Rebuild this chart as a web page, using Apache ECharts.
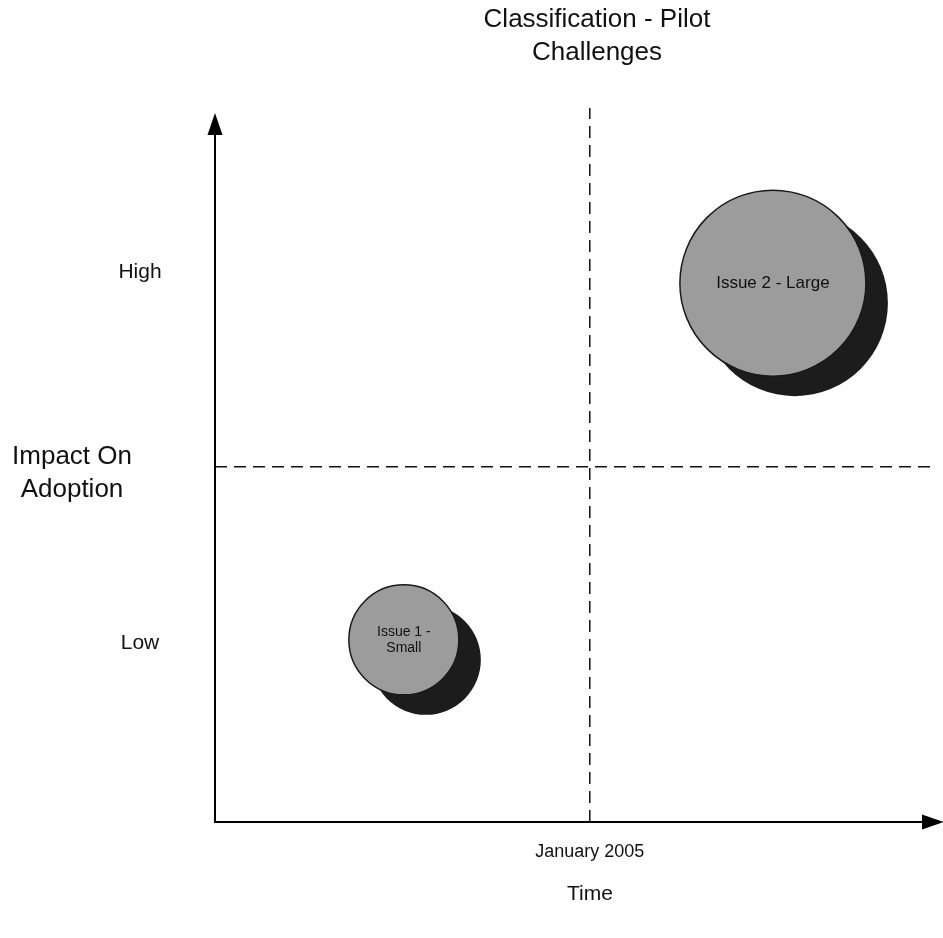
<!DOCTYPE html>
<html lang="en">
    <head>
        <meta charset="UTF-8" />
        <title>Classification - Pilot Challenges</title>
        <script src="https://cdn.jsdelivr.net/npm/echarts@6/dist/echarts.min.js"></script>
        <style>
            * {
                margin: 0;
                padding: 0;
            }
            #chart {
                width: 943px;
                height: 938px;
                background: #fff;
            }
        </style>
    </head>
    <body>
        <div id="chart"></div>
        <script type="text/javascript">
            // bubbles: [time position, impact position, bubble diameter]
            const issueNames = ['Issue 1 -\nSmall', 'Issue 2 - Large'];
            const issueX = [26.3, 77.7];
            const issueY = [26.1, 77.2];
            const issueSize = [110, 186];

            // tick labels
            const xTickValues = [52.2];
            const xTickLabels = ['January 2005'];
            const yTickValues = [25.6, 78.8];
            const yTickLabels = ['Low', 'High'];

            // quadrant dividers (they run a little past the axis ends)
            const xDividerLine = [[52.2, 0], [52.2, 102.3]];
            const yDividerLine = [[0, 50.9], [101.4, 50.9]];

            const font = 'Liberation Sans, Arial, sans-serif';

            const myChart = echarts.init(document.getElementById('chart'));

            const bubbleData = issueNames.map(function (name, i) {
                return {
                    name: name,
                    value: [issueX[i], issueY[i], issueSize[i]],
                    label: { fontSize: i === 0 ? 14 : 17 },
                };
            });

            const dashed = {
                color: '#111',
                width: 1.5,
                type: [12, 7],
            };

            const option = {
                animation: false,
                textStyle: { fontFamily: font },
                title: {
                    text: 'Classification - Pilot\nChallenges',
                    left: 592,
                    top: -2,
                    textAlign: 'center',
                    textStyle: {
                        fontFamily: font,
                        fontSize: 26,
                        fontWeight: 'normal',
                        color: '#111',
                        lineHeight: 33,
                    },
                },
                grid: {
                    left: 215,
                    right: 10,
                    top: 124,
                    bottom: 116,
                    containLabel: false,
                    outerBoundsMode: 'none',
                },
                xAxis: {
                    type: 'value',
                    min: 0,
                    max: 100,
                    name: 'Time',
                    nameLocation: 'middle',
                    nameGap: 62,
                    nameMoveOverlap: false,
                    nameTextStyle: {
                        fontFamily: font,
                        fontSize: 21,
                        color: '#111',
                        padding: [0, 0, 0, 32],
                    },
                    axisLine: {
                        show: true,
                        symbol: ['none', 'triangle'],
                        symbolSize: [15, 22],
                        lineStyle: { color: '#000', width: 2 },
                    },
                    axisTick: { show: false },
                    splitLine: { show: false },
                    axisLabel: {
                        customValues: xTickValues,
                        margin: 21,
                        fontFamily: font,
                        fontSize: 18,
                        color: '#111',
                        formatter: function (v) {
                            return xTickLabels[xTickValues.indexOf(v)] || '';
                        },
                    },
                },
                yAxis: {
                    type: 'value',
                    min: 0,
                    max: 100,
                    name: 'Impact On\nAdoption',
                    nameLocation: 'middle',
                    nameRotate: 0,
                    nameGap: 143,
                    nameMoveOverlap: false,
                    nameTextStyle: {
                        fontFamily: font,
                        fontSize: 26,
                        color: '#111',
                        lineHeight: 33,
                        align: 'center',
                    },
                    axisLine: {
                        show: true,
                        symbol: ['none', 'triangle'],
                        symbolSize: [15, 22],
                        lineStyle: { color: '#000', width: 2 },
                    },
                    axisTick: { show: false },
                    splitLine: { show: false },
                    axisLabel: {
                        customValues: yTickValues,
                        margin: 75,
                        align: 'center',
                        fontFamily: font,
                        fontSize: 21,
                        color: '#111',
                        formatter: function (v) {
                            return yTickLabels[yTickValues.indexOf(v)] || '';
                        },
                    },
                },
                series: [
                    {
                        name: 'time divider',
                        type: 'line',
                        silent: true,
                        clip: false,
                        symbol: 'none',
                        z: 0,
                        data: xDividerLine,
                        lineStyle: dashed,
                    },
                    {
                        name: 'impact divider',
                        type: 'line',
                        silent: true,
                        clip: false,
                        symbol: 'none',
                        z: 0,
                        data: yDividerLine,
                        lineStyle: dashed,
                    },
                    {
                        name: 'shadow',
                        type: 'scatter',
                        silent: true,
                        z: 1,
                        clip: false,
                        data: bubbleData.map(function (d) {
                            return d.value;
                        }),
                        symbolSize: function (d) {
                            return d[2];
                        },
                        symbolOffset: [22, 20],
                        itemStyle: { color: '#1c1c1c', opacity: 1 },
                    },
                    {
                        name: 'issues',
                        type: 'scatter',
                        z: 2,
                        clip: false,
                        data: bubbleData,
                        symbolSize: function (d) {
                            return d[2];
                        },
                        itemStyle: {
                            color: '#9c9c9c',
                            borderColor: '#1a1a1a',
                            borderWidth: 1.5,
                            opacity: 1,
                        },
                        label: {
                            show: true,
                            position: 'inside',
                            color: '#111',
                            fontFamily: font,
                            lineHeight: 16,
                            formatter: function (p) {
                                return p.name;
                            },
                        },
                    },
                ],
            };

            option && myChart.setOption(option);
        </script>
    </body>
</html>
